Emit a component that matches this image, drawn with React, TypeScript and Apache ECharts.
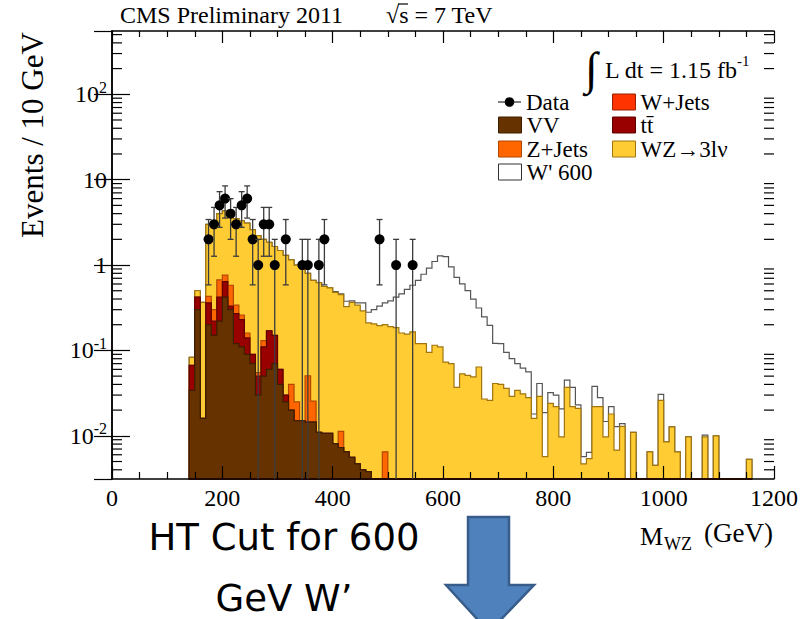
import React, { useEffect, useRef } from "react";
import * as echarts from "echarts";

// ---------------- data (events / 10 GeV bin, first bin starts at 140 GeV) ----------------
const BIN_START = 140;
const BIN_WIDTH = 10;

const VV = [
  0.034, 0.3, 0.016, 0.2, 0.15, 0.22, 0.42, 0.3, 0.12, 0.11,
  0.09, 0.07, 0.03, 0.05, 0.06, 0.07, 0.04, 0.025, 0.02, 0.015,
  0.015, 0.0145, 0.0145, 0.011, 0.0107, 0.0107, 0.0081, 0.0073, 0.0065, 0.0056,
  0.0047, 0.004, 0.0038,
];
const TTBAR = [0.033, 0.12, 0, 0.16, 0.07, 0.2, 0.22, 0.03, 0.15, 0.12, 0.05, 0.02, 0.02, 0.06, 0.11, 0.08, 0.02, 0.005];
const WJETS: number[] = [];
const ZJETS = [
  0, 0, 0, 0.07, 0.08, 0.25, 0.12, 0.25, 0.07, 0.03,
  0.02, 0, 0.005, 0.02, 0, 0, 0, 0, 0.02, 0.01,
  0, 0.036, 0.011, 0, 0, 0, 0, 0.004, 0, 0,
  0, 0, 0, 0, 0, 0.0065,
];
const WZ = [
  0.016, 0.08, 0.35, 2.57, 2.8, 3.33, 3.54, 3.22, 3.16, 3.04,
  2.94, 2.51, 2.15, 1.87, 1.68, 1.5, 1.42, 1.27, 1.11, 0.975,
  0.905, 0.75, 0.635, 0.61, 0.55, 0.53, 0.47, 0.44, 0.32, 0.36,
  0.335, 0.286, 0.206, 0.205, 0.195, 0.194, 0.19, 0.185, 0.16, 0.155,
  0.165, 0.12, 0.12, 0.095, 0.115, 0.11, 0.073, 0.07, 0.037, 0.053,
  0.051, 0.049, 0.064, 0.027, 0.026, 0.041, 0.04, 0.036, 0.029, 0.034,
  0.031, 0.028, 0.016, 0.029, 0.0057, 0.024, 0.022, 0.0097, 0.037, 0.022,
  0.021, 0.0047, 0.0054, 0.022, 0.022, 0.0097, 0.018, 0.0068, 0.0129, 0,
  0.011, 0, 0, 0.0065, 0.0045, 0.026, 0.0085, 0.0127, 0.0065, 0,
  0.0097, 0, 0, 0.0097, 0, 0.01, 0, 0, 0, 0,
  0, 0.0053,
];
const WPRIME = [
  0, 0, 0, 0, 0, 0, 0, 0, 0, 0,
  0, 0, 0, 0, 0, 0, 0, 0, 0, 0,
  0, 0, 0, 0, 0, 0,
  0.01, 0.01, 0.05, 0.015, 0.02, 0.07, 0.07, 0.095, 0.135, 0.16,
  0.19, 0.235, 0.3, 0.365, 0.415, 0.54, 0.66, 0.825, 0.985, 1.17,
  1.18, 0.88, 0.68, 0.55, 0.45, 0.35, 0.25, 0.22, 0.17, 0.08,
  0.08, 0.059, 0.051, 0.036, 0.031, 0.028, 0.002, 0.012, 0.013, 0.008,
  0.008, 0.011, 0.008, 0.015, 0.002, 0.001, 0.001, 0.016, 0.006, 0.005,
  0.004, 0.006, 0.001, 0, 0, 0, 0, 0, 0, 0.0045,
  0, 0, 0, 0, 0, 0, 0, 0.0005, 0, 0,
  0, 0, 0, 0, 0, 0,
];

const DATA_MASS = [175, 185, 195, 205, 215, 225, 235, 245, 255, 265, 275, 285, 295, 315, 345, 355, 375, 385, 485, 515, 545];
const DATA_COUNTS = [2, 3, 5, 6, 4, 3, 5, 6, 2, 1, 3, 3, 1, 2, 1, 1, 1, 2, 2, 1, 1];

const LAYER_NAMES = ["W+Jets", "VV", "tt\u0304", "Z+Jets", "WZ\u21923l\u03bd", "W' 600"];
const LAYER_VALUES = [WJETS, VV, TTBAR, ZJETS, WZ, WPRIME];
const LAYER_FILL = ["#ff3300", "#663300", "#990000", "#ff6600", "#ffcc33", "#ffffff"];
const LAYER_LINE = ["#992000", "#3d1e00", "#5c0000", "#b34700", "#a0740e", "#555555"];

const X_MIN = 0;
const X_MAX = 1200;
const Y_MIN = 0.00312;
const Y_MAX = 551;
const LOG_MINOR = [2, 3, 4, 5, 6, 7, 8, 9];

const SERIF = "Liberation Serif";
const SANS = "DejaVu Sans";

// ---------------- build ----------------
const N_BINS = Math.max(...LAYER_VALUES.map((a) => a.length));
const CUM: number[][] = [];
LAYER_VALUES.forEach((vals, k) => {
  const row: number[] = [];
  for (let i = 0; i < N_BINS; i++) {
    row.push((k > 0 ? CUM[k - 1][i] : 0) + (vals[i] || 0));
  }
  CUM.push(row);
});

function layerSeries(k: number) {
  return {
    type: "custom",
    name: LAYER_NAMES[k],
    coordinateSystem: "cartesian2d",
    xAxisIndex: 0,
    yAxisIndex: 0,
    silent: true,
    data: [[BIN_START, 1]],
    encode: { x: 0, y: 1 },
    itemStyle: { color: LAYER_FILL[k], borderColor: LAYER_LINE[k] },
    renderItem: (_p: any, api: any) => {
      const c = CUM[k];
      const pts: number[][] = [];
      pts.push(api.coord([BIN_START, Y_MIN]));
      for (let i = 0; i < N_BINS; i++) {
        const v = Math.max(c[i], Y_MIN);
        const lo = BIN_START + i * BIN_WIDTH;
        pts.push(api.coord([lo, v]));
        pts.push(api.coord([lo + BIN_WIDTH, v]));
      }
      pts.push(api.coord([BIN_START + N_BINS * BIN_WIDTH, Y_MIN]));
      return {
        type: "polygon",
        shape: { points: pts },
        style: { fill: LAYER_FILL[k], stroke: LAYER_LINE[k], lineWidth: 1.2 },
      };
    },
  };
}

const dataSeries = {
  type: "custom",
  name: "Data",
  coordinateSystem: "cartesian2d",
  silent: true,
  z: 20,
  data: DATA_MASS.map((m, i) => [m, DATA_COUNTS[i]]),
  encode: { x: 0, y: 1 },
  itemStyle: { color: "#000" },
  renderItem: (_p: any, api: any) => {
    const m = api.value(0);
    const n = api.value(1);
    const e = Math.sqrt(n);
    const p = api.coord([m, n]);
    const top = api.coord([m, n + e]);
    const loV = n - e;
    const bot = api.coord([m, Math.max(loV, Y_MIN)]);
    const ls = { stroke: "#3c3c3c", lineWidth: 1.3 };
    const children: any[] = [
      { type: "line", shape: { x1: p[0], y1: top[1], x2: p[0], y2: bot[1] }, style: ls },
      { type: "line", shape: { x1: p[0] - 3, y1: top[1], x2: p[0] + 3, y2: top[1] }, style: ls },
    ];
    if (loV > Y_MIN) {
      children.push({ type: "line", shape: { x1: p[0] - 3, y1: bot[1], x2: p[0] + 3, y2: bot[1] }, style: ls });
    }
    children.push({ type: "circle", shape: { cx: p[0], cy: p[1], r: 5 }, style: { fill: "#000" } });
    return { type: "group", children };
  },
};

const minorTickSeries = {
  type: "custom",
  name: "_minor",
  coordinateSystem: "cartesian2d",
  silent: true,
  z: 30,
  data: [[X_MIN, 1]],
  encode: { x: 0, y: 1 },
  renderItem: (_p: any, api: any) => {
    const children: any[] = [];
    for (let ex = -3; ex <= 2; ex++) {
      for (const m of LOG_MINOR) {
        const v = m * Math.pow(10, ex);
        if (v <= Y_MIN || v >= Y_MAX) continue;
        const l = api.coord([X_MIN, v]);
        const r = api.coord([X_MAX, v]);
        children.push({ type: "line", shape: { x1: l[0], y1: l[1], x2: l[0] + 10, y2: l[1] }, style: { stroke: "#000", lineWidth: 1.2 } });
        children.push({ type: "line", shape: { x1: r[0] - 10, y1: r[1], x2: r[0], y2: r[1] }, style: { stroke: "#000", lineWidth: 1.2 } });
      }
    }
    return { type: "group", children };
  },
};

function yLabel(v: number) {
  const e = Math.round(Math.log10(v));
  if (e === 0) return "1";
  if (e === 1) return "10";
  return "10{sup|" + e + "}";
}

const legendBase = {
  padding: 0,
  itemWidth: 23,
  itemHeight: 16,
  selectedMode: false,
  textStyle: { fontFamily: SERIF, fontSize: 23, lineHeight: 19, color: "#000" },
};
function boxLegend(k: number, left: number, cy: number) {
  return {
    ...legendBase,
    left,
    top: cy - 9.5,
    data: [
      {
        name: LAYER_NAMES[k],
        icon: "rect",
        itemStyle: { color: LAYER_FILL[k], borderColor: k === 5 ? "#333" : LAYER_LINE[k], borderWidth: 1 },
      },
    ],
  };
}

const axisCommon = {
  axisLine: { show: true, lineStyle: { color: "#000", width: 1.5 } },
  splitLine: { show: false },
  z: 10,
};

const option: any = {
  animation: false,
  backgroundColor: "#fff",
  grid: { left: 112, right: 38, top: 31, bottom: 140, show: false },
  xAxis: [
    {
      ...axisCommon,
      type: "value",
      min: X_MIN,
      max: X_MAX,
      interval: 200,
      position: "bottom",
      axisTick: { show: true, inside: true, length: 13, lineStyle: { color: "#000", width: 1.2 } },
      minorTick: { show: true, splitNumber: 4, length: 7, lineStyle: { color: "#000", width: 1.2 } },
      axisLabel: { fontFamily: SERIF, fontSize: 24, color: "#000", margin: 7, formatter: (v: number) => String(v) },
    },
    {
      ...axisCommon,
      type: "value",
      min: X_MIN,
      max: X_MAX,
      interval: 200,
      position: "top",
      axisTick: { show: true, inside: true, length: 12, lineStyle: { color: "#000", width: 1.2 } },
      minorTick: { show: true, splitNumber: 4, length: 6, lineStyle: { color: "#000", width: 1.2 } },
      axisLabel: { show: false },
    },
  ],
  yAxis: [
    {
      ...axisCommon,
      type: "log",
      logBase: 10,
      min: Y_MIN,
      max: Y_MAX,
      position: "left",
      axisTick: { show: true, inside: true, length: 18, lineStyle: { color: "#000", width: 1.2 } },
      axisLabel: {
        fontFamily: SERIF,
        fontSize: 24,
        color: "#000",
        margin: 5,
        showMinLabel: false,
        showMaxLabel: false,
        formatter: yLabel,
        rich: { sup: { fontFamily: SERIF, fontSize: 16, verticalAlign: "top", lineHeight: 30 } },
      },
    },
    {
      ...axisCommon,
      type: "log",
      logBase: 10,
      min: Y_MIN,
      max: Y_MAX,
      position: "right",
      axisTick: { show: true, inside: true, length: 18, lineStyle: { color: "#000", width: 1.2 } },
      axisLabel: { show: false },
    },
  ],
  legend: [
    {
      ...legendBase,
      itemHeight: 10,
      left: 498,
      top: 100 - 9.5,
      data: [{ name: "Data", icon: "path://M0,4.4H24V5.6H0Z M12,0A5,5 0 1 1 11.99,0Z", itemStyle: { color: "#000" } }],
    },
    boxLegend(0, 612, 100),
    boxLegend(1, 498, 123),
    boxLegend(2, 612, 123),
    boxLegend(3, 498, 147),
    boxLegend(4, 612, 147),
    boxLegend(5, 498, 170),
  ],
  series: [
    layerSeries(5),
    layerSeries(4),
    layerSeries(3),
    layerSeries(2),
    layerSeries(1),
    layerSeries(0),
    dataSeries,
    minorTickSeries,
  ],
  graphic: [
    { type: "text", x: 120, y: 15, style: { text: "CMS Preliminary 2011", fontFamily: SERIF, fontSize: 24, fill: "#000", verticalAlign: "middle" } },
    { type: "text", x: 386, y: 15, style: { text: "\u221as = 7 TeV", fontFamily: SERIF, fontSize: 24, fill: "#000", verticalAlign: "middle" } },
    { type: "line", shape: { x1: 398, y1: 4, x2: 408, y2: 4 }, style: { stroke: "#000", lineWidth: 1.2 } },
    { type: "text", x: 585, y: 68, style: { text: "\u222b", fontFamily: SERIF, fontSize: 46, fill: "#000", verticalAlign: "middle" } },
    { type: "text", x: 605, y: 70, style: { text: "L dt = 1.15 fb", fontFamily: SERIF, fontSize: 24, fill: "#000", verticalAlign: "middle" } },
    { type: "text", x: 737, y: 61, style: { text: "-1", fontFamily: SERIF, fontSize: 15, fill: "#000", verticalAlign: "middle" } },
    {
      type: "text",
      x: 32,
      y: 135,
      rotation: Math.PI / 2,
      style: { text: "Events / 10 GeV", fontFamily: SERIF, fontSize: 31, fill: "#000", align: "center", verticalAlign: "middle" },
    },
    { type: "text", x: 640, y: 536, style: { text: "M", fontFamily: SERIF, fontSize: 26, fill: "#000", verticalAlign: "middle" } },
    { type: "text", x: 664, y: 544, style: { text: "WZ", fontFamily: SERIF, fontSize: 18, fill: "#000", verticalAlign: "middle" } },
    { type: "text", x: 704, y: 533, style: { text: "(GeV)", fontFamily: SERIF, fontSize: 27, fill: "#000", verticalAlign: "middle" } },
    { type: "text", x: 284, y: 537, style: { text: "HT Cut for 600", fontFamily: SANS, fontSize: 37, fill: "#000", align: "center", verticalAlign: "middle" } },
    { type: "text", x: 284, y: 598, style: { text: "GeV W\u2019", fontFamily: SANS, fontSize: 37, fill: "#000", align: "center", verticalAlign: "middle" } },
    {
      type: "polygon",
      shape: { points: [[468, 517], [509, 517], [509, 585], [534, 585], [489, 632], [446, 585], [468, 585]] },
      style: { fill: "#4f81bd", stroke: "#385d8a", lineWidth: 2.5 },
    },
  ],
};

export default function App() {
  const ref = useRef<HTMLDivElement>(null);
  useEffect(() => {
    const chart = echarts.init(ref.current!, null, { renderer: "svg" });
    chart.setOption(option);
    return () => chart.dispose();
  }, []);
  return <div ref={ref} style={{ position: "fixed", left: 0, top: 0, width: 812, height: 619, background: "#fff" }} />;
}
